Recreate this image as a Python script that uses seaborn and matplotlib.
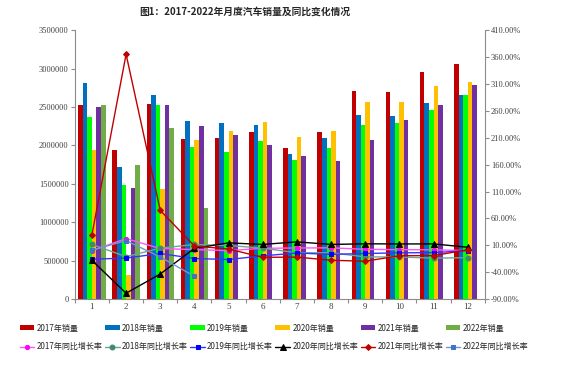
import numpy as np
import pandas as pd
import matplotlib
matplotlib.use("Agg")
import matplotlib.pyplot as plt
from matplotlib.ticker import FuncFormatter, FixedLocator
import seaborn as sns

# ---- data ----
months = [str(m) for m in range(1, 13)]
years = ["2017", "2018", "2019", "2020", "2021", "2022"]

sales_2017 = [2520000, 1940000, 2540000, 2080000, 2100000, 2170000, 1970000, 2180000, 2710000, 2700000, 2950000, 3060000]
sales_2018 = [2810000, 1720000, 2650000, 2320000, 2290000, 2270000, 1890000, 2100000, 2390000, 2380000, 2550000, 2660000]
sales_2019 = [2370000, 1480000, 2520000, 1980000, 1910000, 2060000, 1810000, 1960000, 2270000, 2290000, 2460000, 2660000]
sales_2020 = [1940000, 310000, 1430000, 2070000, 2190000, 2300000, 2110000, 2190000, 2570000, 2570000, 2770000, 2830000]
sales_2021 = [2500000, 1450000, 2530000, 2250000, 2130000, 2010000, 1860000, 1800000, 2070000, 2330000, 2520000, 2790000]
sales_2022 = [2530000, 1740000, 2230000, 1180000] + [np.nan] * 8

growth_2017 = [0.2, 22.4, 4.0, 2.0, 0.1, 4.5, 5.0, 5.3, 2.5, 1.9, 1.6, 0.1]
growth_2018 = [11.6, -11.1, 4.7, 11.5, 9.6, 4.8, -4.0, -3.8, -11.6, -11.7, -13.9, -13.0]
growth_2019 = [-15.8, -13.8, -5.2, -14.6, -16.4, -9.6, -4.3, -6.9, -5.2, -4.0, -3.6, 0.1]
growth_2020 = [-18.0, -79.1, -43.3, 4.4, 14.5, 11.6, 16.4, 11.6, 12.8, 12.5, 12.6, 6.4]
growth_2021 = [29.5, 365.0, 74.9, 8.6, 3.1, -12.4, -11.9, -17.8, -19.6, -9.4, -9.1, 1.6]
growth_2022 = [0.9, 18.7, -11.7, -47.6] + [np.nan] * 8

sales = [sales_2017, sales_2018, sales_2019, sales_2020, sales_2021, sales_2022]
growth = [growth_2017, growth_2018, growth_2019, growth_2020, growth_2021, growth_2022]

bar_colors = ["#C00000", "#0070C0", "#00FF00", "#FFC000", "#7030A0", "#70AD47"]
line_colors = ["#FF55FF", "#6AA88F", "#3535FF", "#000000", "#C00000", "#7395D3"]
line_marker_colors = ["#FF00FF", "#3D8B6B", "#0000FF", "#000000", "#C00000", "#4472C4"]
markers = ["o", "o", "s", "^", "D", "s"]
marker_sizes = [3, 3.5, 3.5, 3.8, 3, 3.5]

df = pd.DataFrame({
    "month": months * len(years),
    "year": [y for y in years for _ in months],
    "sales": [v for s in sales for v in s],
})

# ---- figure ----
sns.set_style("ticks")
plt.rcParams["font.family"] = ["Liberation Serif", "Noto Sans CJK SC"]

fig = plt.figure(figsize=(5.67, 3.67), dpi=100)
ax = fig.add_axes([0.132, 0.185, 0.723, 0.733])

sns.barplot(data=df, x="month", y="sales", hue="year", order=months,
            hue_order=years, palette=bar_colors, width=0.8, ax=ax,
            saturation=1, linewidth=0, legend=True)
bar_handles, bar_labels = ax.get_legend_handles_labels()
ax.get_legend().remove()

ax.set_xlim(-0.5, 11.5)
ax.set_ylim(0, 3500000)
ax.set_yticks(np.arange(0, 3500001, 500000))
ax.yaxis.set_major_formatter(FuncFormatter(lambda v, p: f"{int(v)}"))
ax.set_xlabel("")
ax.set_ylabel("")

ax2 = ax.twinx()
for i, y in enumerate(years):
    sns.lineplot(x=np.arange(12), y=growth[i], ax=ax2, color=line_colors[i],
                 marker=markers[i], markersize=marker_sizes[i],
                 markerfacecolor=line_marker_colors[i],
                 markeredgecolor=line_marker_colors[i], linewidth=1.0, label=y)
lh, _ = ax2.get_legend_handles_labels()
ax2.get_legend().remove()

ax2.set_ylim(-90, 410)
ax2.set_yticks(np.arange(-90, 411, 50))
ax2.yaxis.set_major_formatter(FuncFormatter(lambda v, p: f"{v:.2f}%"))

# ticks & spines
for a in (ax, ax2):
    a.spines["top"].set_visible(False)
    for side in ("left", "right", "bottom"):
        a.spines[side].set_color("#8c8c8c")
        a.spines[side].set_linewidth(0.8)
ax.spines["right"].set_visible(False)
ax2.spines["left"].set_visible(False)
ax2.spines["bottom"].set_visible(False)

ax.tick_params(axis="x", which="major", length=0, labelsize=6.5, colors="#404040", pad=3)
ax.xaxis.set_minor_locator(FixedLocator(np.arange(-0.5, 12, 1)))
ax.tick_params(axis="x", which="minor", length=3, color="#8c8c8c", width=0.8)
ax.tick_params(axis="y", length=3, color="#8c8c8c", labelsize=6, colors="#404040", pad=1.5)
ax2.tick_params(axis="y", length=3, color="#8c8c8c", labelsize=6, colors="#404040", pad=1.5)

fig.text(0.432, 0.967, "图1：2017-2022年月度汽车销量及同比变化情况", ha="center", va="center",
         fontsize=7, fontweight="bold", family=["Noto Sans CJK SC", "DejaVu Sans"])

# legend: row 1 bars, row 2 lines
handles, labels = [], []
for i, y in enumerate(years):
    handles += [bar_handles[i], lh[i]]
    labels += [f"{y}年销量", f"{y}年同比增长率"]
fig.legend(handles, labels, ncol=6, loc="upper left", bbox_to_anchor=(0.035, 0.118),
           frameon=False, prop={"family": ["Noto Sans CJK SC", "DejaVu Sans"], "size": 5.8},
           handlelength=1.8, handletextpad=0.3, columnspacing=0.3, labelspacing=1.2,
           borderaxespad=0, borderpad=0, handleheight=0.6)

fig.savefig("out.png", dpi=100)
